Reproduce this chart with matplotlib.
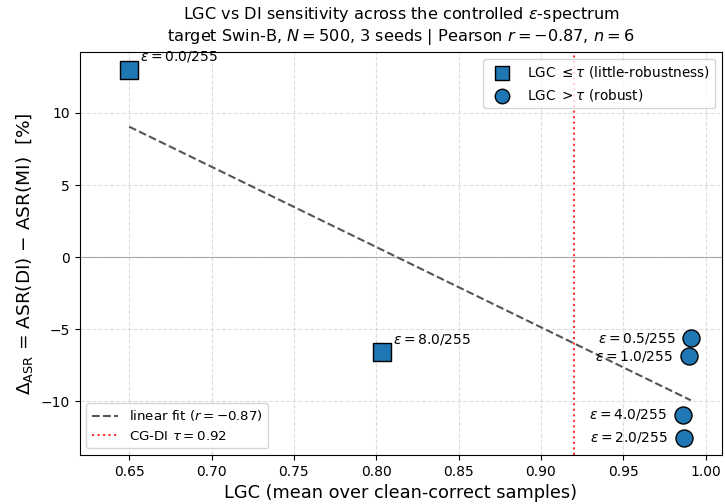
import numpy as np
import matplotlib
matplotlib.use("Agg")
import matplotlib.pyplot as plt

# epsilon settings (x/255), LGC and delta ASR (DI - MI) in %
eps_labels = ["0.0", "8.0", "0.5", "1.0", "4.0", "2.0"]
lgc = [0.650, 0.8035, 0.991, 0.9897, 0.986, 0.9867]
delta_asr = [13.0, -6.6, -5.63, -6.9, -10.95, -12.55]
tau = 0.92

lgc = np.array(lgc)
delta_asr = np.array(delta_asr)
low = lgc <= tau
high = ~low

fig, ax = plt.subplots(figsize=(7.25, 5.04), dpi=100)
fig.subplots_adjust(left=0.110, right=0.996, top=0.897, bottom=0.097)

ax.grid(True, linestyle="--", color="#dddddd", linewidth=0.8)
ax.set_axisbelow(True)
ax.axhline(0, color="#aaaaaa", linewidth=0.8, zorder=1)

ax.scatter(lgc[low], delta_asr[low], marker="s", s=150, color="#1f77b4",
           edgecolor="black", linewidth=1.0, zorder=4,
           label=r"LGC $\leq\tau$ (little-robustness)")
ax.scatter(lgc[high], delta_asr[high], marker="o", s=150, color="#1f77b4",
           edgecolor="black", linewidth=1.0, zorder=4,
           label=r"LGC $>\tau$ (robust)")

for x, y, e in zip(lgc, delta_asr, eps_labels):
    txt = r"$\varepsilon = $" + f"{e}/255"
    if x > tau:
        ax.annotate(txt, (x, y), xytext=(-11, 0), textcoords="offset points",
                    ha="right", va="center", fontsize=10)
    else:
        ax.annotate(txt, (x, y), xytext=(8, 4), textcoords="offset points",
                    ha="left", va="bottom", fontsize=10)

slope, icpt = np.polyfit(lgc, delta_asr, 1)
r = np.corrcoef(lgc, delta_asr)[0, 1]
xs = np.linspace(lgc.min(), lgc.max(), 50)
fit_line, = ax.plot(xs, slope * xs + icpt, "--", color="#555555", linewidth=1.5,
                    label=rf"linear fit ($r = {r:.2f}$)")
tau_line = ax.axvline(tau, color="red", linestyle=":", linewidth=1.5, alpha=0.8,
                      label=rf"CG-DI $\tau = {tau}$")

handles, labels = ax.get_legend_handles_labels()
h_pts = [h for h, l in zip(handles, labels) if l.startswith("LGC")]
leg1 = ax.legend(h_pts, [h.get_label() for h in h_pts], loc="upper right",
                 fontsize=9.8, markerscale=0.85)
ax.add_artist(leg1)
ax.legend([fit_line, tau_line], [fit_line.get_label(), tau_line.get_label()],
          loc="lower left", fontsize=9.6)

ax.set_xlim(0.62, 1.01)
ax.set_ylim(-13.75, 14.24)
ax.set_xticks(np.arange(0.65, 1.0001, 0.05))
ax.set_yticks([-10, -5, 0, 5, 10])

ax.set_xlabel("LGC (mean over clean-correct samples)", fontsize=12.8)
ax.set_ylabel(r"$\Delta_{\rm ASR}$ = ASR(DI) $-$ ASR(MI)  [%]", fontsize=13.3)
ax.set_title("LGC vs DI sensitivity across the controlled $\\varepsilon$-spectrum\n"
             f"target Swin-B, $N = 500$, 3 seeds | Pearson $r = {r:.2f}$, $n = {len(lgc)}$",
             fontsize=11.6, pad=8)

fig.savefig("out.png", dpi=100)
